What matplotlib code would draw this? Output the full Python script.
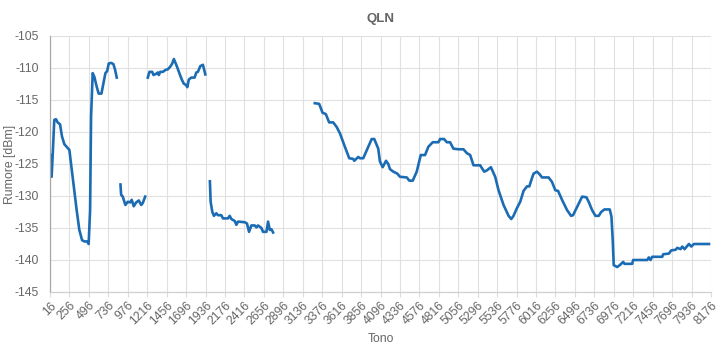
import numpy as np
import matplotlib
matplotlib.use('Agg')
import matplotlib.pyplot as plt

nan = np.nan

# tone index and QLN noise (dBm); nan marks a gap in the trace
tones = [
    20, 36, 48, 69, 90, 110, 140, 164, 193, 221, 255, 283, 317, 345, 378, 412, 440, 474, 493,
    511, 523, 543, 564, 592, 617, 651, 675, 700, 721, 741, 771, 799, 820, 840, 860,
    886, 894, 914, 947, 976, 1006, 1025, 1050, 1080, 1112, 1142, 1161, 1191, 1207,
    1223, 1244, 1278, 1294, 1327, 1347, 1359, 1377, 1409, 1442, 1471, 1500, 1525, 1545,
    1575, 1607, 1636, 1665, 1698, 1711, 1730, 1760, 1801, 1822, 1842, 1872, 1904, 1933, 1960,
    1990, 1999, 2020, 2040, 2069, 2089, 2131, 2151, 2213, 2234, 2255, 2296, 2317, 2337,
    2420, 2448, 2473, 2502, 2543, 2564, 2584, 2626, 2646, 2688, 2708, 2729, 2750, 2770, 2800,
    3285, 3339, 3381, 3421, 3462, 3512, 3554, 3595, 3656, 3710, 3759, 3772, 3821, 3842,
    3883, 3945, 3987, 4019, 4068, 4089, 4123, 4164, 4192, 4213, 4254, 4303, 4337, 4420,
    4452, 4494, 4543, 4593, 4646, 4687, 4741, 4811, 4832, 4881, 4915, 4955, 4996, 5058,
    5120, 5162, 5203, 5244, 5286, 5326, 5376, 5409, 5459, 5512, 5553, 5615, 5677, 5710,
    5738, 5780, 5821, 5862, 5904, 5933, 5966, 5986, 6028, 6060, 6090, 6171, 6213, 6254,
    6288, 6337, 6399, 6448, 6473, 6523, 6585, 6638, 6666, 6708, 6749, 6790, 6820, 6860,
    6926, 6947, 6963, 6975, 7017, 7050, 7092, 7108, 7203, 7215, 7389, 7408, 7429, 7450,
    7574, 7586, 7656, 7685, 7739, 7760, 7800, 7821, 7850, 7883, 7903, 7933, 7965, 8007, 8151,
]
qln = [
    -123.6, -127.0, -123.9, -118.1, -118.0, -118.5, -118.8, -120.7, -121.9, -122.3, -122.8,
    -125.7, -129.1, -132.2, -135.3, -136.9, -137.1, -137.1, -137.5,
    -132.2, -117.6, -110.8, -111.4, -112.9, -114.0, -114.0, -112.4, -110.8, -110.5, -109.3,
    -109.2, -109.4, -110.3, -111.5, nan,
    -128.2, -129.8, -130.1, -131.4, -130.9, -131.0, -130.6, -131.6, -131.0, -130.7, -131.4,
    -131.1, -130.1, nan,
    -111.5, -110.6, -110.6, -111.1, -110.9, -110.7, -111.1, -110.6, -110.6, -110.3, -110.2,
    -109.8, -109.3, -108.6, -109.5, -110.6, -111.6, -112.4, -112.7, -113.0, -111.8, -111.5,
    -111.5, -110.7, -110.6, -109.7, -109.5, -111.0, nan,
    -127.7, -130.9, -132.5, -133.1, -132.7, -133.0, -133.0, -133.5, -133.5, -133.1, -133.6,
    -133.9, -134.5, -134.0, -134.1, -134.3, -135.6, -134.6, -134.6, -134.9, -134.6, -135.0,
    -135.6, -135.6, -134.0, -135.3, -135.2, -135.7, nan,
    -115.5, -115.6, -117.0, -117.2, -118.5, -118.5, -119.2, -120.2, -122.3, -124.1, -124.2,
    -124.5, -123.9, -124.1, -124.1, -122.3, -121.1, -121.1, -122.6, -124.6, -125.5, -124.5,
    -125.0, -125.8, -126.2, -126.5, -127.0, -127.1, -127.6, -127.6, -126.2, -123.6, -123.6,
    -122.3, -121.6, -121.6, -121.1, -121.1, -121.6, -121.6, -122.6, -122.7, -122.7, -123.3,
    -123.6, -125.2, -125.2, -125.2, -126.2, -126.0, -125.5, -127.0, -129.1, -131.4, -133.1,
    -133.6, -133.1, -131.9, -130.9, -129.2, -128.5, -128.5, -127.2, -126.5, -126.2, -126.6,
    -127.1, -127.1, -127.8, -129.1, -129.2, -130.6, -132.2, -133.1, -133.0, -131.7, -130.1,
    -130.2, -130.9, -132.2, -133.1, -133.1, -132.5, -132.1, -132.1, -133.2, -136.9, -140.8,
    -141.1, -140.8, -140.3, -140.6, -140.6, -140.0, -140.0, -139.6, -140.0, -139.5, -139.5,
    -139.1, -139.0, -138.5, -138.4, -138.1, -138.3, -137.9, -138.3, -137.8, -137.5, -137.9,
    -137.5, -137.5, -137.5,
]

tick_tones = list(range(16, 8177, 240))
y_ticks = [-145, -140, -135, -130, -125, -120, -115, -110, -105]

plt.rcParams['font.family'] = ['Liberation Sans', 'DejaVu Sans']
grey = '#666666'

fig = plt.figure(figsize=(7.2, 3.5), dpi=100)
ax = fig.add_axes([50 / 720, 1 - 292 / 350, 661 / 720, 256 / 350])

ax.plot(tones, qln, color='#1c6cb4', lw=1.9, solid_joinstyle='round')

ax.set_xlim(16, 8176)
ax.set_ylim(-145, -105)
ax.set_xticks(tick_tones)
ax.set_xticklabels([str(t) for t in tick_tones], rotation=45, ha='right',
                   rotation_mode='anchor', fontsize=8.8, color=grey)
ax.set_yticks(y_ticks)
ax.set_yticklabels([str(v) for v in y_ticks], fontsize=8.8, color=grey)
ax.tick_params(axis='x', length=3.5, width=0.8, color='#dcdcdc', pad=2)
ax.tick_params(axis='y', length=0, pad=8)
ax.grid(True, color='#e0e0e0', lw=0.8)
ax.set_axisbelow(True)

for side in ['top', 'right']:
    ax.spines[side].set_visible(False)
ax.spines['left'].set_color('#a8a8a8')
ax.spines['left'].set_linewidth(0.9)
ax.spines['bottom'].set_color('#d0d0d0')
ax.spines['bottom'].set_linewidth(0.9)

ax.set_title('QLN', fontsize=9.5, fontweight='bold', color=grey, pad=10)
ax.set_xlabel('Tono', fontsize=8.8, color=grey, labelpad=4)
ax.set_ylabel('Rumore [dBm]', fontsize=8.8, color=grey, va='center')
ax.yaxis.set_label_coords(-39.5 / 661, 0.5)

fig.savefig('out.png', dpi=100)
